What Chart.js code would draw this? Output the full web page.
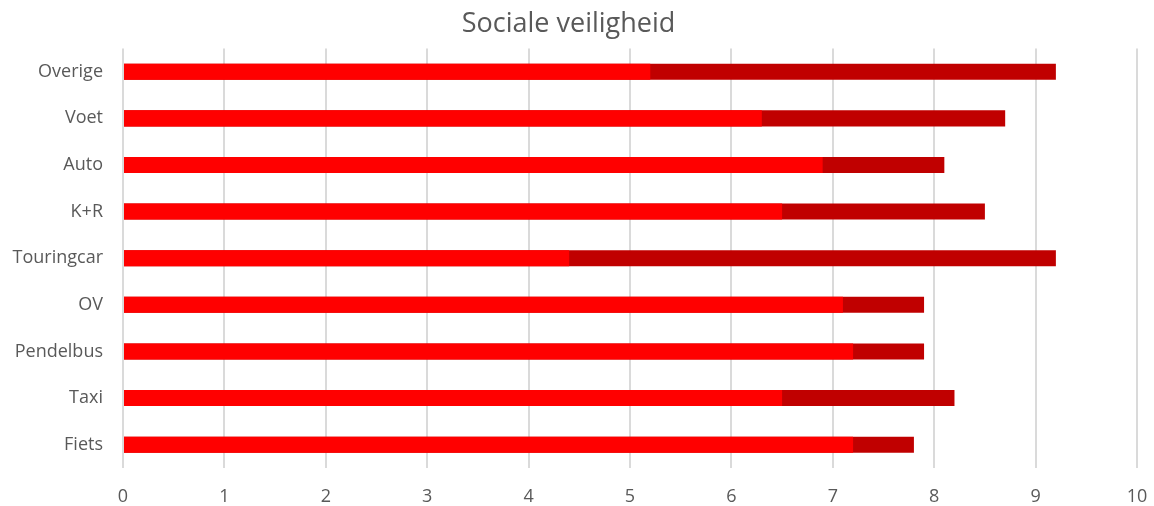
<!DOCTYPE html>
<html>
<head>
<meta charset="utf-8">
<script src="https://cdn.jsdelivr.net/npm/chart.js@4/dist/chart.umd.min.js"></script>
<style>
  html, body { margin: 0; padding: 0; background: #fff; }
  #wrap { width: 1154px; height: 506px; }
</style>
</head>
<body>
<div id="wrap"><canvas id="grafiek"></canvas></div>
<script>
// Categorieën (van boven naar beneden)
const categorieen = ['Overige', 'Voet', 'Auto', 'K+R', 'Touringcar', 'OV', 'Pendelbus', 'Taxi', 'Fiets'];

// Waarden
const waardenLaag = [5.2, 6.3, 6.9, 6.5, 4.4, 7.1, 7.2, 6.5, 7.2];   // helder rood
const waardenHoog = [9.2, 8.7, 8.1, 8.5, 9.2, 7.9, 7.9, 8.2, 7.8];   // donkerrood (eindpunt)

const asLabels = ['0', '1', '2', '3', '4', '5', '6', '7', '8', '9', '10'];

const tekstKleur = '#595959';
const lettertype = "'Open Sans', sans-serif";

const ctx = document.getElementById('grafiek').getContext('2d');

new Chart(ctx, {
    type: 'bar',
    data: {
        labels: categorieen,
        datasets: [
            {
                label: 'Laag',
                data: waardenLaag,
                backgroundColor: '#FF0000',
                borderWidth: 0
            },
            {
                label: 'Hoog',
                data: waardenHoog,
                backgroundColor: '#C00000',
                borderWidth: 0
            }
        ]
    },
    options: {
        indexAxis: 'y',
        responsive: true,
        maintainAspectRatio: false,
        animation: false,
        layout: {
            padding: { left: 0, right: 17, top: 0, bottom: 0 }
        },
        datasets: {
            bar: {
                grouped: false,
                categoryPercentage: 1,
                barPercentage: 0.345
            }
        },
        plugins: {
            legend: { display: false },
            tooltip: { enabled: false },
            title: {
                display: true,
                text: 'Sociale veiligheid',
                color: tekstKleur,
                font: { family: lettertype, size: 27, weight: 'normal' },
                padding: { top: 8, bottom: 8 }
            }
        },
        scales: {
            x: {
                min: 0,
                max: 10,
                grid: {
                    color: '#dadada',
                    lineWidth: 2,
                    drawTicks: false
                },
                border: { display: false },
                ticks: {
                    stepSize: 1,
                    color: tekstKleur,
                    font: { family: lettertype, size: 18 },
                    padding: 18,
                    callback: (v, i) => asLabels[i]
                },
                afterFit: (schaal) => {
                    schaal.height = 38;
                    schaal.paddingLeft = 0;
                    schaal.paddingRight = 0;
                }
            },
            y: {
                grid: { display: false, drawTicks: false },
                border: { display: false },
                ticks: {
                    color: tekstKleur,
                    font: { family: lettertype, size: 18 },
                    padding: 20
                },
                afterFit: (schaal) => { schaal.width = 123; }
            }
        }
    }
});
</script>
</body>
</html>
